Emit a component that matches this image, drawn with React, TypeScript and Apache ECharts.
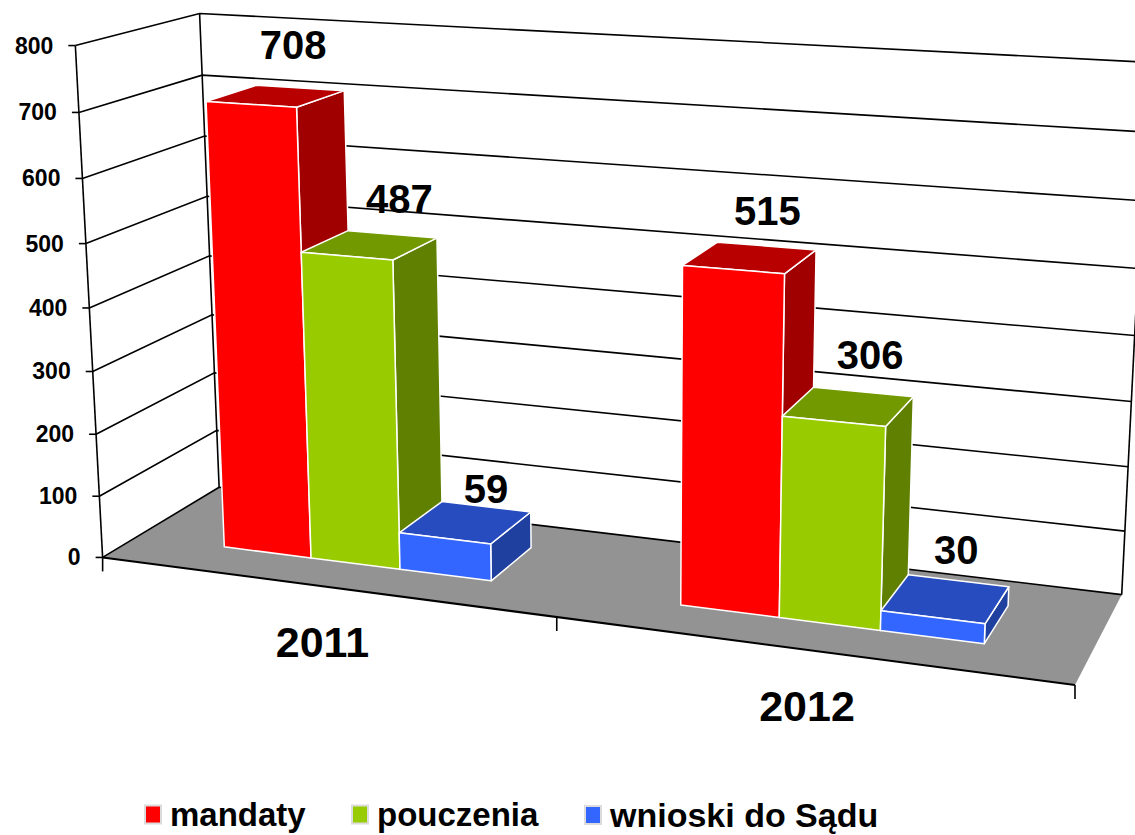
import React, { useEffect, useRef } from "react";
import * as echarts from "echarts";

const categories = ["2011", "2012"];
const seriesNames = ["mandaty", "pouczenia", "wnioski do Sądu"];
const mandaty = [708, 515];
const pouczenia = [487, 306];
const wnioski = [59, 30];
const valueTicks = [0, 100, 200, 300, 400, 500, 600, 700, 800];
const valueMax = 800;

const WIDTH = 1135;
const HEIGHT = 835;
const FONT = '"Liberation Sans", Arial, sans-serif';

// camera calibration: [u across, value share, depth] -> screen
const CAMERA: [number, number, number, number, number][] = [
  [0, 0, 0, 103, 557],
  [0.5, 0, 0, 556, 618],
  [1, 0, 0, 1075, 685],
  [0, 0.5, 0, 90, 308],
  [0, 1, 0, 75, 45],
  [0, 0, 1, 219, 487],
  [1, 0, 1, 1122, 594],
  [0, 0.5, 1, 209, 257],
  [0, 1, 1, 200, 13],
  [1, 0.5, 1, 1135, 335],
  [1, 1, 1, 1148, 63],
];

function solveCamera(): number[] {
  const rows: number[][] = [];
  const rhs: number[] = [];
  for (const [u, v, d, x, y] of CAMERA) {
    rows.push([u, v, d, 1, 0, 0, 0, 0, -x * u, -x * v, -x * d]);
    rhs.push(x);
    rows.push([0, 0, 0, 0, u, v, d, 1, -y * u, -y * v, -y * d]);
    rhs.push(y);
  }
  const n = 11;
  const m: number[][] = [];
  for (let i = 0; i < n; i++) {
    const r = new Array(n + 1).fill(0);
    for (let k = 0; k < rows.length; k++) {
      for (let j = 0; j < n; j++) r[j] += rows[k][i] * rows[k][j];
      r[n] += rows[k][i] * rhs[k];
    }
    m.push(r);
  }
  for (let i = 0; i < n; i++) {
    let p = i;
    for (let k = i + 1; k < n; k++) if (Math.abs(m[k][i]) > Math.abs(m[p][i])) p = k;
    [m[i], m[p]] = [m[p], m[i]];
    for (let k = 0; k < n; k++) {
      if (k === i) continue;
      const f = m[k][i] / m[i][i];
      for (let j = i; j <= n; j++) m[k][j] -= f * m[i][j];
    }
  }
  return m.map((r, i) => r[n] / r[i]);
}

const P = solveCamera();
function project(u: number, v: number, d: number): number[] {
  const w = P[8] * u + P[9] * v + P[10] * d + 1;
  return [
    (P[0] * u + P[1] * v + P[2] * d + P[3]) / w,
    (P[4] * u + P[5] * v + P[6] * d + P[7]) / w,
  ];
}

// library scale -> camera inputs
const toU = (px: number) => px / WIDTH;
const toV = (py: number) => (HEIGHT - py) / HEIGHT;

const BAR_W = 0.1;
const CLUSTER_SHIFT = 0.0015;
const D0 = 0.29;
const D1 = 0.72;
const LABEL_OFFSETS = [
  [[-7, -43], [1, -35]],
  [[7, -35], [7, -37]],
  [[0, -18], [-2, -31]],
];
const FACES = [
  { front: "#ff0000", top: "#b80000", side: "#a00000" },
  { front: "#99cc00", top: "#739900", side: "#5f8000" },
  { front: "#3366ff", top: "#264cbf", side: "#2040a0" },
];

const boldText = (text: string, p: number[], size: number, align = "center") => ({
  type: "text",
  style: {
    text,
    x: p[0],
    y: p[1],
    fill: "#000",
    fontFamily: FONT,
    fontWeight: "bold",
    fontSize: size,
    align,
    verticalAlign: "middle",
  },
});
const line = (pts: number[][], width = 1.6) => ({
  type: "polyline",
  shape: { points: pts },
  style: { stroke: "#000", lineWidth: width, fill: "none" },
});

function barRender(si: number) {
  return (params: any, api: any) => {
    const cat = api.value(0);
    const val = api.value(1);
    const c = api.coord([cat, val]);
    const zero = api.coord([cat, 0]);
    const uc = toU(c[0]);
    const u0 = uc + CLUSTER_SHIFT + (si - 1.5) * BAR_W;
    const u1 = u0 + BAR_W;
    const v1 = toV(c[1]);
    const v0 = toV(zero[1]);
    const F = FACES[si];
    const edge = { stroke: "#fff", lineWidth: 1.5, lineJoin: "round" };
    const poly = (pts: number[][], fill: string) => ({
      type: "polygon",
      shape: { points: pts },
      style: { fill, ...edge },
    });
    const backMid = project((u0 + u1) / 2, v1, D1);
    const off = LABEL_OFFSETS[si][params.dataIndex];
    return {
      type: "group",
      children: [
        poly([project(u1, v0, D0), project(u1, v0, D1), project(u1, v1, D1), project(u1, v1, D0)], F.side),
        poly([project(u0, v1, D0), project(u1, v1, D0), project(u1, v1, D1), project(u0, v1, D1)], F.top),
        poly([project(u0, v0, D0), project(u1, v0, D0), project(u1, v1, D0), project(u0, v1, D0)], F.front),
        boldText(String(val), [backMid[0] + off[0], backMid[1] + off[1]], 40),
      ],
    };
  };
}

function floorRender(_: any, api: any) {
  const v0 = toV(api.coord([0, 0])[1]);
  const v1 = toV(api.coord([0, valueMax])[1]);
  const a = project(0, v0, 0);
  const b = project(1, v0, 0);
  const c = project(1, v0, 1);
  const d = project(0, v0, 1);
  const ticks = [0, 0.5, 1].map((u) => {
    const p = project(u, v0, 0);
    return line([p, [p[0], p[1] + 14]]);
  });
  return {
    type: "group",
    children: [
      { type: "polygon", shape: { points: [a, b, c, d] }, style: { fill: "#939393" } },
      line([a, b], 2),
      line([a, d]),
      line([d, c]),
      line([a, project(0, v1, 0)]),
      line([d, project(0, v1, 1)]),
      line([c, project(1, v1, 1)]),
      ...ticks,
    ],
  };
}

function tickRender(_: any, api: any) {
  const t = api.value(0);
  const v = toV(api.coord([0, t])[1]);
  const a = project(0, v, 0);
  const b = project(0, v, 1);
  const c = project(1, v, 1);
  return {
    type: "group",
    children: [
      ...(t > 0 ? [line([a, b, c])] : []),
      line([[a[0] - 7, a[1]], a]),
      boldText(String(t), [a[0] - 22, a[1]], 23, "right"),
    ],
  };
}

function categoryRender(_: any, api: any) {
  const i = api.value(0);
  const c = api.coord([i, 0]);
  const p = project(toU(c[0]), toV(c[1]), 0);
  return boldText(categories[i], [p[0], p[1] + 56], 43);
}

const legendItem = (name: string, left: number, color: string, size: number) => ({
  show: true,
  left,
  top: 798,
  orient: "horizontal",
  icon: "rect",
  itemWidth: 16,
  itemHeight: 18,
  padding: 0,
  selectedMode: false,
  data: [{ name }],
  itemStyle: { color, borderColor: "#dcdcdc", borderWidth: 2 },
  textStyle: {
    fontFamily: FONT,
    fontWeight: "bold",
    fontSize: size,
    color: "#000",
    padding: [0, 0, 0, 4],
  },
});

export default function App() {
  const ref = useRef<HTMLDivElement>(null);
  useEffect(() => {
    const chart = echarts.init(ref.current!, undefined, { renderer: "svg" });
    const valueSets = [mandaty, pouczenia, wnioski];
    chart.setOption({
      animation: false,
      backgroundColor: "#fff",
      grid: { left: 0, top: 0, width: WIDTH, height: HEIGHT },
      xAxis: { type: "category", data: categories, show: false },
      yAxis: { type: "value", min: 0, max: valueMax, interval: 100, show: false },
      legend: [
        legendItem(seriesNames[0], 144, FACES[0].front, 33),
        legendItem(seriesNames[1], 351, FACES[1].front, 33),
        legendItem(seriesNames[2], 584, FACES[2].front, 34),
      ],
      series: [
        { type: "custom", name: "floor", silent: true, data: [[0]], renderItem: floorRender, encode: { x: 0, y: 0 } },
        { type: "custom", name: "ticks", silent: true, data: valueTicks.map((t) => [t]), renderItem: tickRender, encode: { y: 0 } },
        ...valueSets.map((vals, si) => ({
          type: "custom",
          name: seriesNames[si],
          itemStyle: { color: FACES[si].front },
          data: vals.map((v, i) => [i, v]),
          renderItem: barRender(si),
          encode: { x: 0, y: 1 },
        })),
        { type: "custom", name: "categories", silent: true, data: categories.map((_, i) => [i]), renderItem: categoryRender, encode: { x: 0 } },
      ],
    });
    return () => chart.dispose();
  }, []);
  return (
    <div
      ref={ref}
      style={{ position: "absolute", left: 0, top: 0, width: WIDTH, height: HEIGHT, overflow: "hidden" }}
    />
  );
}
